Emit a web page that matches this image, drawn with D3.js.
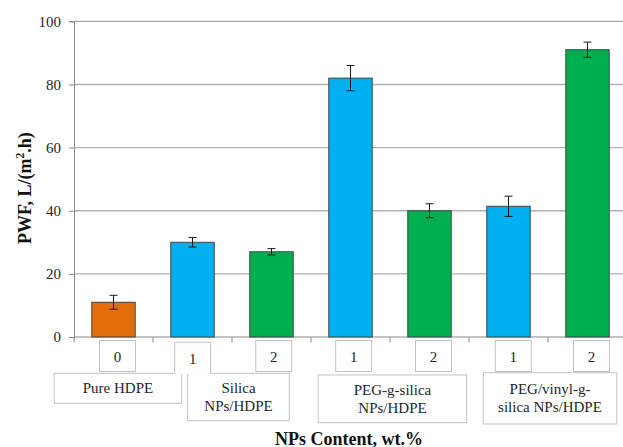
<!DOCTYPE html>
<html>
<head>
<meta charset="utf-8">
<script src="https://cdn.jsdelivr.net/npm/d3@7"></script>
<style>
  html, body { margin: 0; padding: 0; background: #fff; }
  svg { display: block; }
</style>
</head>
<body>
<svg id="chart" width="623" height="447"></svg>
<script>
// Pure water flux of HDPE membranes by nanoparticle type and loading
const contentLabels = ["0", "1", "2", "1", "2", "1", "2"];
const pwf = [11, 30, 27, 82, 40, 41.4, 91];
const pwfError = [2.2, 1.5, 1, 4, 2.2, 3.2, 2.4];
const barColors = ["#E46C0A", "#00B0F0", "#00B050", "#00B0F0", "#00B050", "#00B0F0", "#00B050"];
const groupNames = [["Pure HDPE"], ["Silica", "NPs/HDPE"], ["PEG-g-silica", "NPs/HDPE"], ["PEG/vinyl-g-", "silica NPs/HDPE"]];
const groupMembers = [[0], [1, 2], [3, 4], [5, 6]];
const yTicks = [0, 20, 40, 60, 80, 100];
const yTitle = "PWF, L/(m";
const xTitle = "NPs Content, wt.%";

const FONT = '"Liberation Serif"';

// Layout of the plot and the category label boxes
const plot = { left: 74, right: 627, top: 21.3, bottom: 337 };
const numBox = { w: 36, h: 31, top: 340.5, dx: [4, 0.2, 2.3, 3.2, 4, 4.8, 4] };
const groupBox = [
  { dx: 4.5, w: 127.4, top: 373.3, h: 30 },
  { dx: 6.5, w: 101.6, top: 373.3, h: 47.4 },
  { dx: 2.5, w: 148.4, top: 375, h: 47.7 },
  { dx: 2,   w: 133.4, top: 372.7, h: 51.3 }
];
const joinedBox = 1; // number box fused with the group box beneath it

const svg = d3.select("#chart");
const idx = d3.range(pwf.length);

const x = d3.scaleBand()
  .domain(idx)
  .range([plot.left, plot.right])
  .paddingInner(0.45)
  .paddingOuter(0.225);

const y = d3.scaleLinear().domain([0, 100]).range([plot.bottom, plot.top]);

// Horizontal gridlines
svg.append("g")
  .selectAll("line")
  .data(yTicks.filter(t => t > 0))
  .join("line")
  .attr("x1", plot.left).attr("x2", plot.right)
  .attr("y1", d => y(d)).attr("y2", d => y(d))
  .attr("stroke", d => d === 100 ? "#8c8c8c" : "#b2b2b2")
  .attr("stroke-width", d => d === 100 ? 1 : 1.4);

// Y axis
const yAxis = svg.append("g")
  .attr("transform", `translate(${plot.left},0)`)
  .call(d3.axisLeft(y).tickValues(yTicks).tickSize(5).tickPadding(8));
yAxis.attr("font-family", null).attr("font-size", null);
yAxis.select(".domain").attr("stroke", "#8a8a8a");
yAxis.selectAll(".tick line").attr("stroke", "#8a8a8a");
yAxis.selectAll(".tick text")
  .style("font-family", FONT)
  .style("font-size", "15px")
  .attr("fill", "#262626");

// X axis with category boundary ticks
const step = x.step();
const boundaries = d3.range(pwf.length + 1).map(i => plot.left + i * step);
svg.append("line")
  .attr("x1", plot.left).attr("x2", plot.right)
  .attr("y1", y(0)).attr("y2", y(0))
  .attr("stroke", "#8a8a8a");
svg.append("g")
  .selectAll("line")
  .data(boundaries)
  .join("line")
  .attr("x1", d => d).attr("x2", d => d)
  .attr("y1", y(0)).attr("y2", y(0) + 5.5)
  .attr("stroke", "#8a8a8a");

// Bars
svg.append("g")
  .selectAll("rect")
  .data(idx)
  .join("rect")
  .attr("x", i => x(i))
  .attr("y", i => y(pwf[i]))
  .attr("width", x.bandwidth())
  .attr("height", i => y(0) - y(pwf[i]))
  .attr("fill", i => barColors[i])
  .attr("stroke", "#454545")
  .attr("stroke-width", 1);

// Error bars
const err = svg.append("g").attr("stroke", "#1a1a1a").attr("stroke-width", 1);
idx.forEach(i => {
  const cx = x(i) + x.bandwidth() / 2;
  const hi = y(pwf[i] + pwfError[i]);
  const lo = y(pwf[i] - pwfError[i]);
  err.append("line").attr("x1", cx).attr("x2", cx).attr("y1", hi).attr("y2", lo);
  err.append("line").attr("x1", cx - 4).attr("x2", cx + 4).attr("y1", hi).attr("y2", hi);
  err.append("line").attr("x1", cx - 4).attr("x2", cx + 4).attr("y1", lo).attr("y2", lo);
});

// Group label boxes
const boxStroke = "#c3c3c3";
groupNames.forEach((lines, g) => {
  const members = groupMembers[g];
  const mid = d3.mean(members, i => x(i) + x.bandwidth() / 2) + groupBox[g].dx;
  const b = groupBox[g];
  svg.append("rect")
    .attr("x", mid - b.w / 2).attr("y", b.top)
    .attr("width", b.w).attr("height", b.h)
    .attr("fill", "#fff").attr("stroke", boxStroke);
  const lineH = 18;
  const firstBase = b.top + b.h / 2 - (lines.length - 1) * lineH / 2 + 5;
  lines.forEach((line, k) => {
    svg.append("text")
      .attr("x", mid)
      .attr("y", firstBase + k * lineH)
      .attr("text-anchor", "middle")
      .style("font-family", FONT)
      .style("font-size", "15px")
      .attr("fill", "#262626")
      .text(line);
  });
});

// Content (wt.%) label boxes
idx.forEach(i => {
  const cx = x(i) + x.bandwidth() / 2 + numBox.dx[i];
  const left = cx - numBox.w / 2;
  let textY;
  if (i === joinedBox) {
    const top = numBox.top + 1.8;
    const bottom = groupBox[0].top + 0.6;
    svg.append("rect")
      .attr("x", left).attr("y", top)
      .attr("width", numBox.w).attr("height", bottom - top)
      .attr("fill", "#fff");
    svg.append("path")
      .attr("d", `M${left},${bottom}V${top}H${left + numBox.w}V${bottom}`)
      .attr("fill", "none").attr("stroke", boxStroke);
    textY = top + 21.5;
  } else {
    svg.append("rect")
      .attr("x", left).attr("y", numBox.top)
      .attr("width", numBox.w).attr("height", numBox.h)
      .attr("fill", "#fff").attr("stroke", boxStroke);
    textY = numBox.top + 21;
  }
  svg.append("text")
    .attr("x", cx).attr("y", textY)
    .attr("text-anchor", "middle")
    .style("font-family", FONT)
    .style("font-size", "15px")
    .attr("fill", "#262626")
    .text(contentLabels[i]);
});

// Axis titles
const yt = svg.append("text")
  .attr("transform", `translate(31,${(plot.top + plot.bottom) / 2 + 9}) rotate(-90)`)
  .attr("text-anchor", "middle")
  .style("font-family", FONT)
  .style("font-size", "18px")
  .style("font-weight", "bold")
  .attr("fill", "#111");
yt.append("tspan").text(yTitle);
yt.append("tspan").style("font-size", "11.5px").attr("dy", -7).text("2");
yt.append("tspan").attr("dy", 7).text(".h)");

svg.append("text")
  .attr("x", 349).attr("y", 444.5)
  .attr("text-anchor", "middle")
  .style("font-family", FONT)
  .style("font-size", "18px")
  .style("font-weight", "bold")
  .attr("fill", "#111")
  .text(xTitle);
</script>
</body>
</html>
